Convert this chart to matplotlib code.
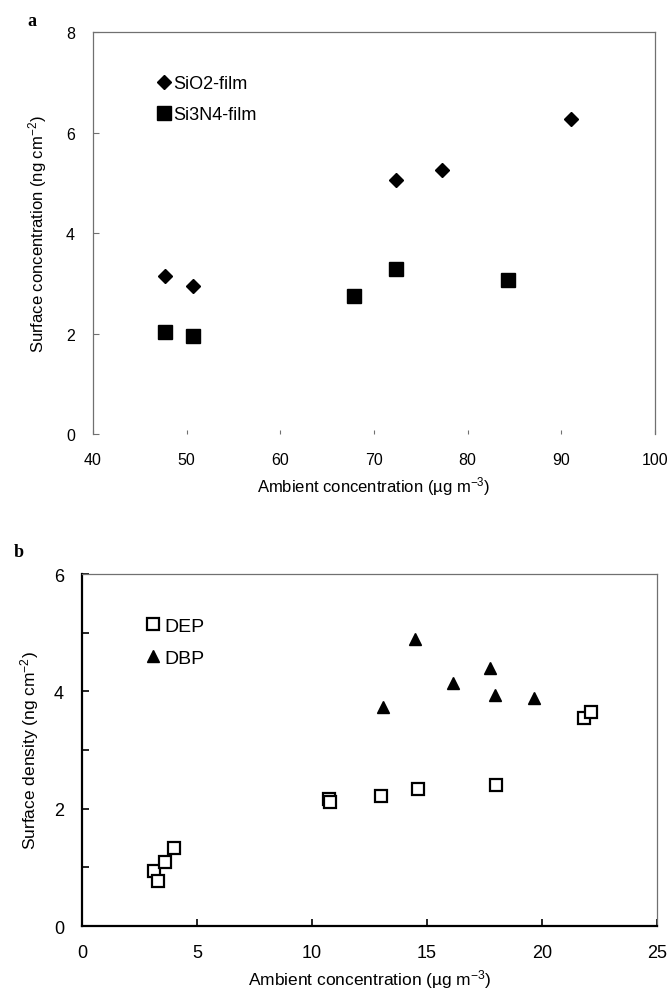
import matplotlib
matplotlib.use("Agg")
import matplotlib.pyplot as plt

plt.rcParams["font.family"] = ["Liberation Sans", "DejaVu Sans"]
plt.rcParams["mathtext.fontset"] = "custom"
plt.rcParams["mathtext.rm"] = "Liberation Sans"
plt.rcParams["mathtext.it"] = "Liberation Sans"

# panel a: film surface vs ambient
sio2_x = [47.7, 50.7, 72.3, 77.3, 91.0]
sio2_y = [3.15, 2.95, 5.05, 5.25, 6.27]
si3n4_x = [47.7, 50.7, 67.9, 72.3, 84.3]
si3n4_y = [2.03, 1.95, 2.75, 3.28, 3.07]

# panel b: phthalates
dep_x = [3.12, 3.30, 3.61, 4.02, 10.75, 10.80, 13.01, 14.62, 18.01, 21.84, 22.13]
dep_y = [0.93, 0.76, 1.09, 1.33, 2.16, 2.12, 2.22, 2.33, 2.41, 3.54, 3.64]
dbp_x = [13.07, 14.50, 16.14, 17.74, 17.96, 19.67]
dbp_y = [3.73, 4.89, 4.14, 4.40, 3.94, 3.89]

a_xticks = [40, 50, 60, 70, 80, 90, 100]
a_yticks = [0, 2, 4, 6, 8]
b_xticks = [0, 5, 10, 15, 20, 25]
b_yticks = [0, 1, 2, 3, 4, 5, 6]
b_ylabels = ["0", "", "2", "", "4", "", "6"]

xlab = "Ambient concentration (\u00b5g m$^{\\mathrm{-3}}$)"

fig = plt.figure(figsize=(6.71, 9.95), dpi=100)

# ---- panel a
ax1 = fig.add_axes([0.1386, 0.5628, 0.8376, 0.4040])
ax1.plot(sio2_x, sio2_y, "D", color="black", ms=7.5, ls="none", label="SiO2-film")
ax1.plot(si3n4_x, si3n4_y, "s", color="black", ms=9.5, ls="none", label="Si3N4-film")
ax1.set_xlim(40, 100)
ax1.set_ylim(0, 8)
ax1.set_xticks(a_xticks)
ax1.set_yticks(a_yticks)
for s in ["left", "top", "right"]:
    ax1.spines[s].set_color("#707070")
    ax1.spines[s].set_linewidth(0.9)
ax1.spines["bottom"].set_visible(False)
ax1.tick_params(direction="in", length=4, width=0.8, color="#707070", labelsize=11.5, pad=13)
ax1.tick_params(axis="x", length=3, pad=13)
ax1.set_xlabel(xlab, fontsize=12, labelpad=5)
ax1.set_ylabel("Surface concentration (ng cm$^{\\mathrm{-2}}$)", fontsize=12, labelpad=12)
ax1.legend(loc="upper left", bbox_to_anchor=(0.095, 0.91), frameon=False, fontsize=13,
           handletextpad=-0.1, handlelength=1.2, labelspacing=0.75, borderaxespad=0)
fig.text(0.041, 0.978, "a", fontsize=13, fontweight="bold", family="Liberation Serif", va="center")

# ---- panel b
ax2 = fig.add_axes([0.1222, 0.0683, 0.8569, 0.3538])
ax2.plot(dep_x, dep_y, "s", mfc="white", mec="black", mew=1.6, ms=8, ls="none", label="DEP")
ax2.plot(dbp_x, dbp_y, "^", color="black", ms=8.5, ls="none", label="DBP")
ax2.set_xlim(0, 25)
ax2.set_ylim(0, 6)
ax2.set_xticks(b_xticks)
ax2.set_yticks(b_yticks)
ax2.set_yticklabels(b_ylabels)
for s in ["top", "right"]:
    ax2.spines[s].set_color("#707070")
    ax2.spines[s].set_linewidth(0.9)
for s in ["left", "bottom"]:
    ax2.spines[s].set_linewidth(1.6)
ax2.tick_params(direction="in", length=5, width=1.2, labelsize=13, pad=13)
ax2.set_xlabel(xlab, fontsize=12.5, labelpad=4)
ax2.set_ylabel("Surface density (ng cm$^{\\mathrm{-2}}$)", fontsize=12.5, labelpad=9)
ax2.legend(loc="upper left", bbox_to_anchor=(0.09, 0.9), frameon=False, fontsize=14,
           handletextpad=0.0, handlelength=1.2, labelspacing=0.75, borderaxespad=0)
fig.text(0.02, 0.445, "b", fontsize=13, fontweight="bold", family="Liberation Serif", va="center")

fig.savefig("out.png", dpi=100)
